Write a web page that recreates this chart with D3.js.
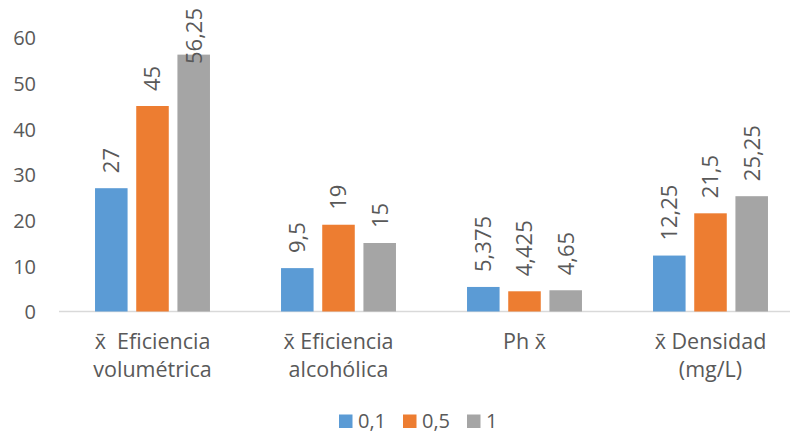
<!DOCTYPE html>
<html>
<head>
<meta charset="utf-8">
<script src="https://cdn.jsdelivr.net/npm/d3@7"></script>
<style>
  html, body { margin: 0; padding: 0; background: #fff; }
  svg { display: block; font-family: "Open Sans", sans-serif; }
</style>
</head>
<body>
<svg id="chart" width="790" height="433"></svg>
<script>
// Category labels (each entry is a list of lines)
const categories = [
  ["x\u0304  Eficiencia", "volumétrica"],
  ["x\u0304 Eficiencia", "alcohólica"],
  ["Ph x\u0304"],
  ["x\u0304 Densidad", "(mg/L)"]
];
const seriesNames = ["0,1", "0,5", "1"];
const series01 = [27, 9.5, 5.375, 12.25];
const series05 = [45, 19, 4.425, 21.5];
const series1  = [56.25, 15, 4.65, 25.25];
const yTicks = [0, 10, 20, 30, 40, 50, 60];

const colors = ["#5B9BD5", "#ED7D31", "#A5A5A5"];
const textColor = "#595959";
const values = [series01, series05, series1];

const svg = d3.select("#chart");

const x0 = d3.scaleBand()
  .domain(d3.range(categories.length))
  .range([59.5, 803.5])
  .padding(0);

const x1 = d3.scaleBand()
  .domain(d3.range(seriesNames.length))
  .range([-61.8, 61.8])
  .paddingInner(0.21)
  .paddingOuter(0.105);

const y = d3.scaleLinear().domain([0, 60]).range([311.5, 37.5]);

const fmt = v => String(v).replace(".", ",");

// y axis tick labels (no axis line, no gridlines)
const yAxis = d3.axisLeft(y).tickValues(yTicks).tickSize(0).tickPadding(0).tickFormat(d => d);
const gy = svg.append("g").attr("transform", "translate(36,0)").call(yAxis);
gy.select(".domain").remove();
gy.selectAll("text")
  .attr("fill", textColor)
  .attr("font-size", "20px")
  .attr("font-family", "Open Sans, sans-serif")
  .attr("dy", "0.36em");

// baseline
svg.append("line")
  .attr("x1", 59).attr("x2", 790)
  .attr("y1", y(0)).attr("y2", y(0))
  .attr("stroke", "#D9D9D9").attr("stroke-width", 1.5);

// bars and value labels
const groups = svg.append("g").selectAll("g")
  .data(categories.map((c, i) => i))
  .join("g")
  .attr("transform", i => `translate(${x0(i) + x0.bandwidth() / 2},0)`);

groups.selectAll("rect")
  .data(i => values.map((s, k) => ({ k, v: s[i] })))
  .join("rect")
  .attr("x", d => x1(d.k))
  .attr("width", x1.bandwidth())
  .attr("y", d => y(d.v))
  .attr("height", d => y(0) - y(d.v))
  .attr("fill", d => colors[d.k]);

// rotated value labels; pushed down when they would run past the top edge
const topLimit = 8;
groups.selectAll("text.val")
  .data(i => values.map((s, k) => ({ k, v: s[i] })))
  .join("text")
  .attr("class", "val")
  .attr("dy", "0.36em")
  .attr("text-anchor", "start")
  .attr("fill", textColor)
  .attr("font-size", "22px")
  .text(d => fmt(d.v))
  .attr("transform", function (d) {
    const len = this.getComputedTextLength();
    const start = Math.max(y(d.v) - 15, topLimit + len);
    return `translate(${x1(d.k) + x1.bandwidth() / 2},${start}) rotate(-90)`;
  });

// category labels
const xAxis = svg.append("g");
categories.forEach((lines, i) => {
  const t = xAxis.append("text")
    .attr("x", x0(i) + x0.bandwidth() / 2)
    .attr("y", 349)
    .attr("text-anchor", "middle")
    .attr("fill", textColor)
    .attr("font-size", "21.5px")
    .attr("xml:space", "preserve")
    .style("white-space", "pre");
  lines.forEach((ln, j) => {
    t.append("tspan")
      .attr("x", x0(i) + x0.bandwidth() / 2)
      .attr("dy", j === 0 ? 0 : 28)
      .text(ln);
  });
});

// legend
const legendX = [339, 403, 467];
const legend = svg.append("g").selectAll("g")
  .data(seriesNames.map((n, k) => k))
  .join("g")
  .attr("transform", k => `translate(${legendX[k]},414.5)`);
legend.append("rect").attr("width", 13.5).attr("height", 13.5).attr("fill", k => colors[k]);
legend.append("text")
  .attr("x", 19).attr("y", 13)
  .attr("fill", textColor)
  .attr("font-size", "20px")
  .text(k => seriesNames[k]);
</script>
</body>
</html>
